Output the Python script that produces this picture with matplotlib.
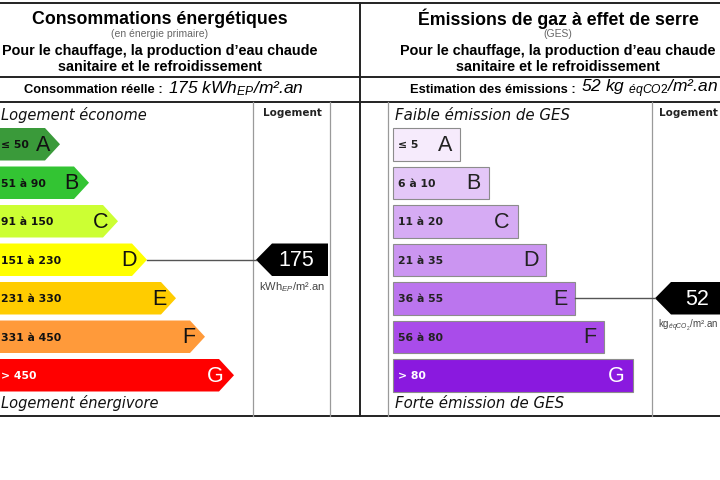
import matplotlib
matplotlib.use("Agg")
import matplotlib.pyplot as plt
from matplotlib.patches import Polygon, Rectangle

plt.rcParams['font.family'] = ['Liberation Sans', 'DejaVu Sans']
plt.rcParams['mathtext.fontset'] = 'custom'
plt.rcParams['mathtext.rm'] = 'Liberation Sans'
plt.rcParams['mathtext.it'] = 'Liberation Sans:italic'
plt.rcParams['mathtext.bf'] = 'Liberation Sans:bold'

# ---------------- data ----------------
classes = ['A', 'B', 'C', 'D', 'E', 'F', 'G']
energy_ranges = ['≤ 50', '51 à 90', '91 à 150', '151 à 230', '231 à 330', '331 à 450', '> 450']
energy_colors = ['#3a9a3a', '#33c433', '#ccff33', '#ffff00', '#ffcc00', '#ff9a3a', '#ff0000']
energy_text_colors = ['#111', '#111', '#111', '#111', '#111', '#111', 'white']
energy_value = 175
energy_class = 'D'

ges_ranges = ['≤ 5', '6 à 10', '11 à 20', '21 à 35', '36 à 55', '56 à 80', '> 80']
ges_colors = ['#f6ebfc', '#e4c7f8', '#d6abf4', '#cb95f1', '#bb75ee', '#a94cea', '#8a19df']
ges_text_colors = ['#222', '#222', '#222', '#222', '#222', '#222', 'white']
ges_value = 52
ges_class = 'E'

# ---------------- figure ----------------
fig = plt.figure(figsize=(7.2, 4.8), dpi=100)
ax = fig.add_axes([0, 0, 1, 1])
ax.set_xlim(0, 720)
ax.set_ylim(480, 0)
ax.axis('off')

dark = '#222222'
grey = '#9a9a9a'

# frame lines
for y in (3, 77, 102, 416):
    ax.plot([0, 720], [y, y], color=dark, lw=1.4)
ax.plot([360, 360], [3, 416], color=dark, lw=1.4)
for x in (253, 330, 388, 652):
    ax.plot([x, x], [102, 416], color=grey, lw=0.9)

# headers
lc, rc = 160, 558
ax.text(lc, 19, 'Consommations énergétiques', ha='center', va='center', fontsize=12.8, fontweight='bold')
ax.text(lc, 34, '(en énergie primaire)', ha='center', va='center', fontsize=7.5, color='#666666')
ax.text(lc, 51, 'Pour le chauffage, la production d\u2019eau chaude', ha='center', va='center', fontsize=10.4, fontweight='bold')
ax.text(lc, 67, 'sanitaire et le refroidissement', ha='center', va='center', fontsize=10.4, fontweight='bold')

ax.text(rc, 19, 'Émissions de gaz à effet de serre', ha='center', va='center', fontsize=12.8, fontweight='bold')
ax.text(rc, 34, '(GES)', ha='center', va='center', fontsize=7.5, color='#666666')
ax.text(rc, 51, 'Pour le chauffage, la production d\u2019eau chaude', ha='center', va='center', fontsize=10.4, fontweight='bold')
ax.text(rc, 67, 'sanitaire et le refroidissement', ha='center', va='center', fontsize=10.4, fontweight='bold')

ax.text(163, 90, 'Consommation réelle :', ha='right', va='center', fontsize=9.3, fontweight='bold')
ax.text(168, 89, f'{energy_value} kWh' + r'$_{EP}$' + '/m².an', ha='left', va='center',
        fontsize=12.5, style='italic')
ax.text(576, 90, 'Estimation des émissions :', ha='right', va='center', fontsize=9.3, fontweight='bold')
ax.text(581, 89, f'{ges_value} kg ' + r'$_{éqCO2}$' + '/m².an', ha='left', va='center',
        fontsize=12.5, style='italic')

# side labels
vfont = ['DejaVu Sans']
ax.text(1, 115, 'Logement économe', ha='left', va='center', fontsize=10.5, style='italic', family=vfont, color='#111')
ax.text(1, 403, 'Logement énergivore', ha='left', va='center', fontsize=10.5, style='italic', family=vfont, color='#111')
ax.text(395, 115, 'Faible émission de GES', ha='left', va='center', fontsize=10.8, style='italic', family=vfont, color='#111')
ax.text(395, 403, 'Forte émission de GES', ha='left', va='center', fontsize=10.8, style='italic', family=vfont, color='#111')
ax.text(292, 113, 'Logement', ha='center', va='center', fontsize=7.5, fontweight='bold', family=vfont, color='#222')
ax.text(688, 113, 'Logement', ha='center', va='center', fontsize=7.5, fontweight='bold', family=vfont, color='#222')

# bars
top0, step, h = 128, 38.5, 32.5
for i, c in enumerate(classes):
    yt = top0 + i * step
    yc = yt + h / 2
    # energy arrow bar
    tip = 60 + 29 * i
    body = tip - 15
    poly = Polygon([(-10, yt), (body, yt), (tip, yc), (body, yt + h), (-10, yt + h)],
                   closed=True, facecolor=energy_colors[i], edgecolor='none')
    ax.add_patch(poly)
    ax.text(1, yc + 1, energy_ranges[i], ha='left', va='center', fontsize=7.8, fontweight='bold',
            family=vfont, color=energy_text_colors[i])
    ax.text(tip - 10, yc + 1, c, ha='right', va='center', fontsize=15.5, color=energy_text_colors[i])

    # ges bar
    right = 460 + 28.8 * i
    rect = Rectangle((393, yt), right - 393, h, facecolor=ges_colors[i], edgecolor='#8c8c8c', lw=0.8)
    ax.add_patch(rect)
    ax.text(398, yc + 1, ges_ranges[i], ha='left', va='center', fontsize=7.8, fontweight='bold',
            family=vfont, color=ges_text_colors[i])
    ax.text(right - 8, yc + 1, c, ha='right', va='center', fontsize=15.5, color=ges_text_colors[i])

# pointers
def pointer(idx, tip_from, tip_x, right_x, label, label_x, unit, unit_x, unit_ha, unit_fs):
    yt = top0 + idx * step
    yc = yt + h / 2
    ax.plot([tip_from, tip_x], [yc, yc], color='#555555', lw=1)
    ax.add_patch(Polygon([(tip_x, yc), (tip_x + 16, yt), (right_x, yt), (right_x, yt + h), (tip_x + 16, yt + h)],
                         closed=True, facecolor='#000000', edgecolor='none'))
    ax.text(label_x, yc + 1, label, ha='center', va='center', fontsize=15.5, color='white')
    ax.text(unit_x, yt + h + 11, unit, ha=unit_ha, va='center', fontsize=unit_fs, color='#444444')

ei = classes.index(energy_class)
pointer(ei, 60 + 29 * ei, 256, 328, str(energy_value), 296, r'kWh$_{EP}$/m².an', 292, 'center', 8)
gi = classes.index(ges_class)
pointer(gi, 460 + 28.8 * gi, 655, 740, str(ges_value), 697, r'kg$_{éqCO_2}$/m².an', 718, 'right', 7)

fig.savefig('out.png', dpi=100)
